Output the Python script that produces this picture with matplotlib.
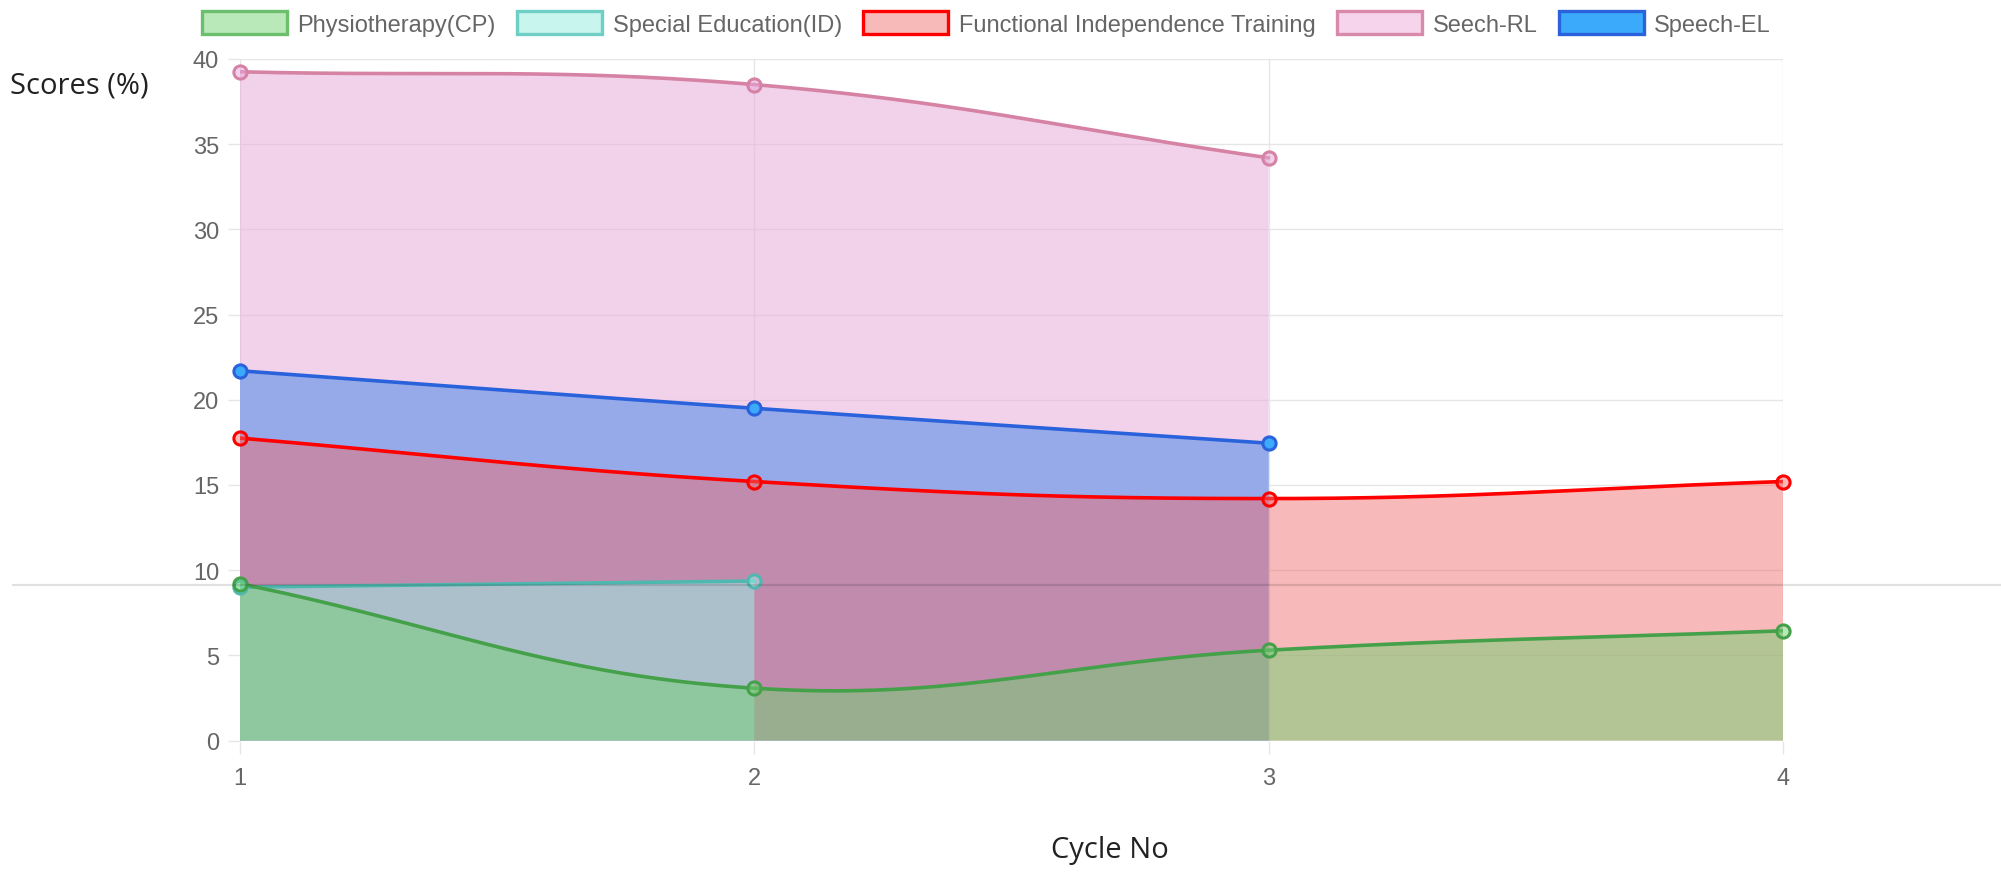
import numpy as np
import matplotlib.pyplot as plt
from matplotlib.patches import Patch
from matplotlib.lines import Line2D

cycles = [1, 2, 3, 4]
physio = [9.2, 3.07, 5.3, 6.44]
special_ed = [9.0, 9.36]
fit = [17.75, 15.2, 14.2, 15.2]
speech_rl = [39.25, 38.5, 34.2]
speech_el = [21.7, 19.5, 17.45]
labels = ["Physiotherapy(CP)", "Special Education(ID)",
          "Functional Independence Training", "Seech-RL", "Speech-EL"]
y_ticks = [0, 5, 10, 15, 20, 25, 30, 35, 40]

series = [physio, special_ed, fit, speech_rl, speech_el]
fills = [(115/255, 209/255, 115/255, 0.5),
         (154/255, 245/255, 235/255, 0.5),
         (240/255, 106/255, 106/255, 0.47),
         (232/255, 170/255, 219/255, 0.53),
         (60/255, 170/255, 250/255, 1.0)]
edges = ["#45a04a", "#4fb8b0", "#ff0000", "#d682a5", "#2a62dc"]
legend_fills = ["#b9e8b9", "#c8f5ee", "#f8b9b9", "#f5d4ec", "#3caafa"]
legend_edges = ["#6cbf6c", "#6fcfc4", "#ff0000", "#d98aab", "#2a62dc"]


def smooth(ax, xs, ys, t=0.4, n=80):
    # chart.js style bezier, computed in pixel space
    pts = ax.transData.transform(np.column_stack([xs, ys]))
    k = len(pts)
    cp_prev = pts.copy()
    cp_next = pts.copy()
    for i in range(k):
        p0 = pts[max(i - 1, 0)]
        p1 = pts[i]
        p2 = pts[min(i + 1, k - 1)]
        d01 = np.hypot(*(p1 - p0))
        d12 = np.hypot(*(p2 - p1))
        tot = d01 + d12
        s01 = d01 / tot if tot else 0
        s12 = d12 / tot if tot else 0
        cp_prev[i] = p1 - t * s01 * (p2 - p0)
        cp_next[i] = p1 + t * s12 * (p2 - p0)
    u = np.linspace(0, 1, n)[:, None]
    segs = []
    for i in range(k - 1):
        a, b, c, d = pts[i], cp_next[i], cp_prev[i + 1], pts[i + 1]
        seg = (1 - u)**3 * a + 3 * (1 - u)**2 * u * b + 3 * (1 - u) * u**2 * c + u**3 * d
        segs.append(seg if i == 0 else seg[1:])
    curve = ax.transData.inverted().transform(np.vstack(segs))
    return curve[:, 0], curve[:, 1]


fig = plt.figure(figsize=(20.01, 8.78), dpi=100)
ax = fig.add_axes([240 / 2001, 1 - 741.5 / 878, (1783 - 240) / 2001, (741.5 - 60) / 878])
ax.set_xlim(1, 4)
ax.set_ylim(0, 40)
ax.set_xticks(cycles)
ax.set_yticks(y_ticks)
for s in ax.spines.values():
    s.set_visible(False)
ax.grid(True, color="#e6e6e6", linewidth=1)
ax.set_axisbelow(True)
ax.axhline(0, color="#bfbfbf", linewidth=1, zorder=0.5)
ax.tick_params(length=9, width=1, color="#e6e6e6", labelcolor="#666666", labelsize=17)
ax.tick_params(axis="y", pad=6)
ax.tick_params(axis="x", pad=10)
for lab in ax.get_xticklabels() + ax.get_yticklabels():
    lab.set_fontfamily("Liberation Sans")

# fills first (bottom to top in reverse dataset order), then lines
for i in reversed(range(len(series))):
    ys = series[i]
    xs = cycles[:len(ys)]
    cx, cy = smooth(ax, xs, ys)
    ax.fill_between(cx, 0, cy, facecolor=fills[i], linewidth=0, zorder=1 + (4 - i))
for i in reversed(range(len(series))):
    ys = series[i]
    xs = cycles[:len(ys)]
    cx, cy = smooth(ax, xs, ys)
    ax.plot(cx, cy, color=edges[i], linewidth=2.6, zorder=10 + (4 - i), solid_capstyle="round")
    ax.plot(xs, ys, linestyle="none", marker="o", markersize=9.5, markerfacecolor=fills[i],
            markeredgecolor=edges[i], markeredgewidth=2.2, zorder=20 + (4 - i), clip_on=False)

handles = [Patch(facecolor=legend_fills[i], edgecolor=legend_edges[i], linewidth=2.4)
           for i in range(len(series))]
fig.legend(handles, labels, loc="center", bbox_to_anchor=(0.493, 0.972), ncol=5, frameon=False,
           prop={"family": "Liberation Sans", "size": 17}, labelcolor="#666666",
           handlelength=3.6, handleheight=1.1, handletextpad=0.45, columnspacing=0.9)

fig.text(0.005, 0.902, "Scores (%)", fontsize=21, family="Open Sans", color="#222222",
         ha="left", va="center")
fig.text(0.5547, 0.0308, "Cycle No", fontsize=21, family="Open Sans", color="#222222",
         ha="center", va="center")

# faint horizontal rule running across the screenshot
fig.add_artist(Line2D([13 / 2001, 1.0], [1 - 586 / 878] * 2, transform=fig.transFigure,
                      color=(0, 0, 0, 0.12), linewidth=1.6, zorder=50))

fig.savefig("out.png", dpi=100)
